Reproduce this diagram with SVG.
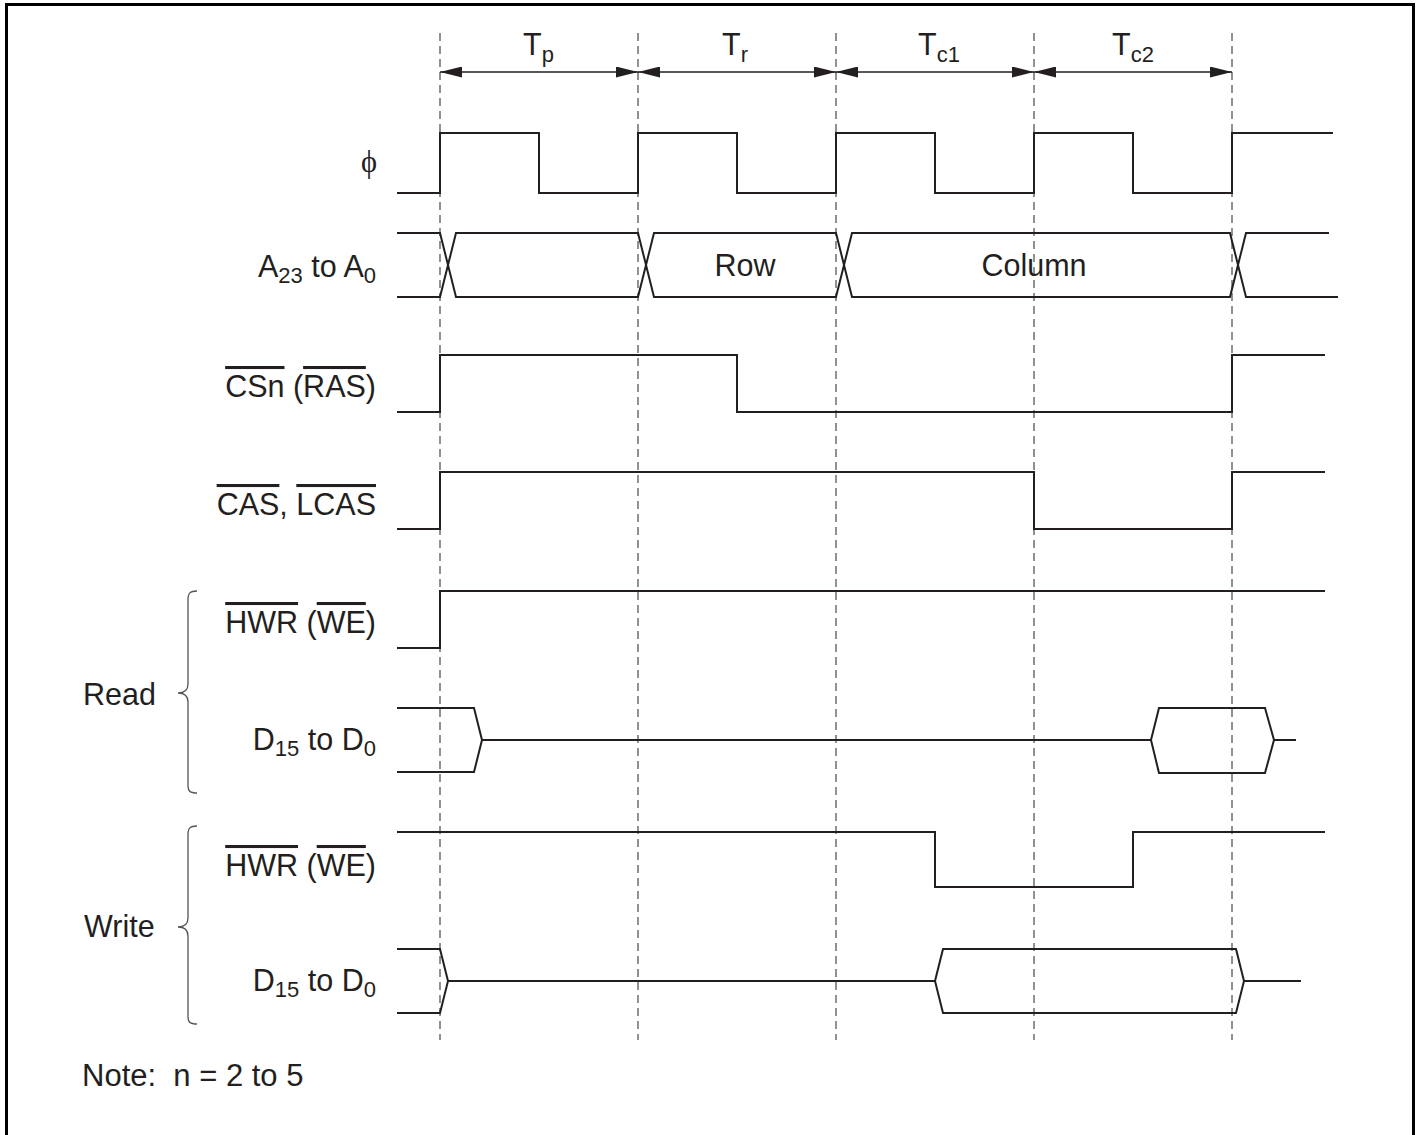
<svg xmlns="http://www.w3.org/2000/svg" width="1417" height="1135" viewBox="0 0 1417 1135">
<style>
text{font-family:"Liberation Sans",Arial,sans-serif;font-size:30.5px;fill:#231f20}
.sub{font-size:22px}
.ov{text-decoration:overline}
.wave{fill:none;stroke:#231f20;stroke-width:2;stroke-linejoin:miter}
.grid{stroke:#6d6d6d;stroke-width:1.5;stroke-dasharray:8,5}
.dim{stroke:#231f20;stroke-width:1.5;fill:none}
.brace{fill:none;stroke:#555;stroke-width:1.3}
</style>
<defs>
<marker id="ah" viewBox="0 0 22 11" refX="22" refY="5.5" markerWidth="22" markerHeight="11" markerUnits="userSpaceOnUse" orient="auto-start-reverse">
<path d="M0,0 L22,5.5 L0,11 Z" fill="#231f20"/>
</marker>
</defs>
<rect x="0" y="0" width="1417" height="1135" fill="#fff"/>
<rect x="6.5" y="4.5" width="1407" height="1145" fill="none" stroke="#000" stroke-width="3"/>

<g id="gridlines">
<line class="grid" x1="440" y1="33" x2="440" y2="1040"/>
<line class="grid" x1="638" y1="33" x2="638" y2="1040"/>
<line class="grid" x1="836" y1="33" x2="836" y2="1040"/>
<line class="grid" x1="1034" y1="33" x2="1034" y2="1040"/>
<line class="grid" x1="1232" y1="33" x2="1232" y2="1040"/>
</g>

<g id="connectors">
<line class="dim" x1="440" y1="72" x2="638" y2="72" marker-start="url(#ah)" marker-end="url(#ah)"/>
<line class="dim" x1="638" y1="72" x2="836" y2="72" marker-start="url(#ah)" marker-end="url(#ah)"/>
<line class="dim" x1="836" y1="72" x2="1034" y2="72" marker-start="url(#ah)" marker-end="url(#ah)"/>
<line class="dim" x1="1034" y1="72" x2="1232" y2="72" marker-start="url(#ah)" marker-end="url(#ah)"/>
</g>

<g id="period-labels">
<text x="523" y="55">T<tspan class="sub" dy="7">p</tspan></text>
<text x="722" y="55">T<tspan class="sub" dy="7">r</tspan></text>
<text x="918" y="55">T<tspan class="sub" dy="7">c1</tspan></text>
<text x="1112" y="55">T<tspan class="sub" dy="7">c2</tspan></text>
</g>

<g id="sig-phi">
<text x="377" y="172" text-anchor="end" style="font-family:'Liberation Serif','Times New Roman',serif">ϕ</text>
<path class="wave" d="M397,193 H440 V133 H539 V193 H638 V133 H737 V193 H836 V133 H935 V193 H1034 V133 H1133 V193 H1232 V133 H1333"/>
</g>

<g id="sig-addr">
<text x="376" y="277" text-anchor="end">A<tspan class="sub" dy="6">23</tspan><tspan dy="-6"> to A</tspan><tspan class="sub" dy="6">0</tspan></text>
<path class="wave" d="M397,233 H440 L456,297 H638 L654,233 H836 L852,297 H1230 L1246,233 H1329"/>
<path class="wave" d="M397,297 H440 L456,233 H638 L654,297 H836 L852,233 H1230 L1246,297 H1338"/>
<text x="745" y="276" text-anchor="middle">Row</text>
<text x="1034" y="276" text-anchor="middle">Column</text>
</g>

<g id="sig-cs">
<text x="376" y="397" text-anchor="end"><tspan class="ov">CSn</tspan> (<tspan class="ov">RAS</tspan>)</text>
<path class="wave" d="M397,412 H440 V355 H737 V412 H1232 V355 H1325"/>
</g>

<g id="sig-cas">
<text x="376" y="515" text-anchor="end"><tspan class="ov">CAS</tspan>, <tspan class="ov">LCAS</tspan></text>
<path class="wave" d="M397,529 H440 V472 H1034 V529 H1232 V472 H1325"/>
</g>

<g id="read-group">
<text x="83" y="705">Read</text>
<path class="brace" d="M197,591 C190,591 188,593 188,600 L188,684 C188,690 185,693 178,693 C185,693 188,696 188,702 L188,786 C188,791 190,793 197,793"/>
</g>

<g id="sig-hwr-read">
<text x="376" y="633" text-anchor="end"><tspan class="ov">HWR</tspan> (<tspan class="ov">WE</tspan>)</text>
<path class="wave" d="M397,648 H440 V591 H1325"/>
</g>

<g id="sig-d-read">
<text x="376" y="750" text-anchor="end">D<tspan class="sub" dy="6">15</tspan><tspan dy="-6"> to D</tspan><tspan class="sub" dy="6">0</tspan></text>
<path class="wave" d="M397,708 H474 L482,740 L474,772 H397"/>
<path class="wave" d="M482,740 H1151"/>
<path class="wave" d="M1151,740 L1159,708 H1265 L1274,740 L1265,773 H1159 Z"/>
<path class="wave" d="M1274,740 H1296"/>
</g>

<g id="write-group">
<text x="84" y="937">Write</text>
<path class="brace" d="M197,826 C190,826 188,828 188,835 L188,918 C188,924 185,927 178,927 C185,927 188,930 188,936 L188,1017 C188,1022 190,1024 197,1024"/>
</g>

<g id="sig-hwr-write">
<text x="376" y="876" text-anchor="end"><tspan class="ov">HWR</tspan> (<tspan class="ov">WE</tspan>)</text>
<path class="wave" d="M397,832 H935 V887 H1133 V832 H1325"/>
</g>

<g id="sig-d-write">
<text x="376" y="991" text-anchor="end">D<tspan class="sub" dy="6">15</tspan><tspan dy="-6"> to D</tspan><tspan class="sub" dy="6">0</tspan></text>
<path class="wave" d="M397,949 H440 L448,981 L440,1013 H397"/>
<path class="wave" d="M448,981 H935"/>
<path class="wave" d="M935,981 L943,949 H1236 L1244,981 L1236,1013 H943 Z"/>
<path class="wave" d="M1244,981 H1301"/>
</g>

<g id="note">
<text x="82" y="1086" font-size="31" xml:space="preserve" style="font-size:31px">Note:  n = 2 to 5</text>
</g>
</svg>
